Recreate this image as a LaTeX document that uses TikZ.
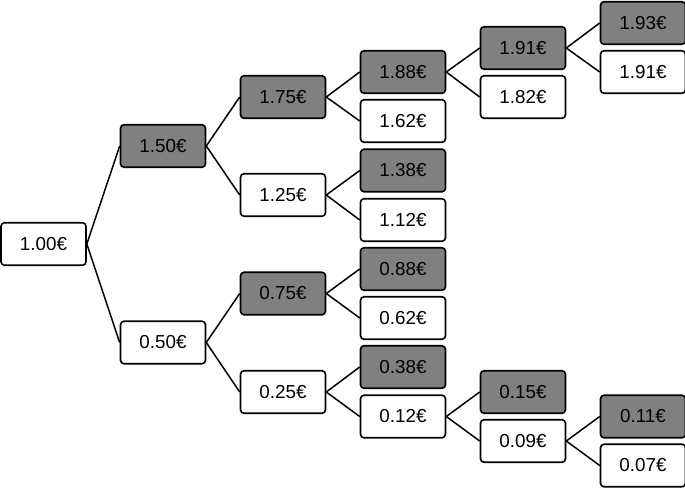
\documentclass[tikz,border=0pt]{standalone}
\usepackage{fontspec}
\setmainfont{Liberation Sans}
\begin{document}
\begin{tikzpicture}[x=1pt,y=-1pt,
  box/.style={draw=black, line width=1.6pt, rounded corners=3.5pt, minimum width=85pt, minimum height=42.5pt, inner sep=0pt, fill=white, font=\fontsize{18.8}{20}\selectfont},
  up/.style={box, fill=gray50},
  link/.style={line width=1.5pt, black}]
\definecolor{gray50}{RGB}{128,128,128}
\useasboundingbox (0,0) rectangle (685,488);
% column 1
\node[box] (a) at (43.5,244) {1.00€};
% column 2
\node[up]  (b1) at (163,146) {1.50€};
\node[box] (b2) at (163,342.5) {0.50€};
% column 3
\node[up]  (c1) at (283,97) {1.75€};
\node[box] (c2) at (283,195) {1.25€};
\node[up]  (c3) at (283,293.5) {0.75€};
\node[box] (c4) at (283,392) {0.25€};
% column 4
\node[up]  (d1) at (403,72) {1.88€};
\node[box] (d2) at (403,121) {1.62€};
\node[up]  (d3) at (403,170.5) {1.38€};
\node[box] (d4) at (403,220) {1.12€};
\node[up]  (d5) at (403,269) {0.88€};
\node[box] (d6) at (403,318) {0.62€};
\node[up]  (d7) at (403,367) {0.38€};
\node[box] (d8) at (403,416.5) {0.12€};
% column 5
\node[up]  (e1) at (523,48) {1.91€};
\node[box] (e2) at (523,97) {1.82€};
\node[up]  (e3) at (523,392) {0.15€};
\node[box] (e4) at (523,441) {0.09€};
% column 6
\node[up]  (f1) at (643,23) {1.93€};
\node[box] (f2) at (643,72) {1.91€};
\node[up]  (f3) at (643,416.5) {0.11€};
\node[box] (f4) at (643,465.5) {0.07€};
% connectors
\foreach \p/\c in {a/b1,a/b2,b1/c1,b1/c2,b2/c3,b2/c4,c1/d1,c1/d2,c2/d3,c2/d4,c3/d5,c3/d6,c4/d7,c4/d8,d1/e1,d1/e2,d8/e3,d8/e4,e1/f1,e1/f2,e4/f3,e4/f4}
  \draw[link] (\p.east) -- (\c.west);
\end{tikzpicture}
\end{document}
